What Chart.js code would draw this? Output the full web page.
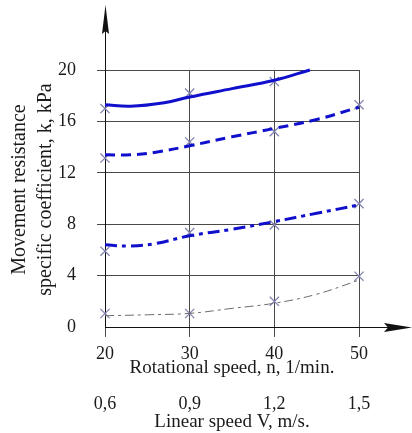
<!DOCTYPE html>
<html><head><meta charset="utf-8">
<script src="https://cdn.jsdelivr.net/npm/chart.js@4/dist/chart.umd.min.js"></script>
<style>html,body{margin:0;padding:0;background:#fff;}canvas{display:block;}</style>
</head><body>
<canvas id="c" width="412" height="433"></canvas>
<script>
// Rotational speed n (1/min) — x ticks
const rotSpeed = [20, 30, 40, 50];
// Linear speed V (m/s) — second axis tick labels
const linSpeedLabels = ['0,6', '0,9', '1,2', '1,5'];
// Measured points (crosses), k in kPa
const measured1 = [17.0, 18.2, 19.1, null];
const measured2 = [13.15, 14.4, 15.2, 17.3];
const measured3 = [5.9, 7.35, 7.95, 9.6];
const measured4 = [1.05, 1.05, 2.0, 3.95];
// Fitted curves
const curve1N = [20, 23, 27, 30, 35, 40, 44.2];
const curve1K = [17.3, 17.18, 17.45, 17.9, 18.55, 19.2, 20.0];
const curve2N = [20, 23, 26, 30, 35, 40, 45, 50];
const curve2K = [13.4, 13.4, 13.6, 14.1, 14.8, 15.45, 16.15, 17.1];
const curve3N = [20, 23, 26, 30, 35, 40, 45, 50];
const curve3K = [6.4, 6.3, 6.5, 7.1, 7.6, 8.2, 8.85, 9.5];
const curve4N = [20, 25, 30, 35, 40, 45, 50];
const curve4K = [0.88, 0.95, 1.06, 1.45, 1.85, 2.55, 3.65];

const yTitleLines = ['Movement resistance', 'specific coefficient, k, kPa'];
const xTitle = 'Rotational speed, n, 1/min.';
const x2Title = 'Linear speed V, m/s.';

const SERIF = '"Liberation Serif", "Times New Roman", serif';
const BLUE = '#1010cc';
const MARK = '#8282b0';
const GRID = '#4a4a4a';
const TXT = '#1a1a1a';

const pts = (xs, ys) => xs.map((x, i) => ({x, y: ys[i]}));

function curve(xs, ys, color, width, dash) {
  return {
    type: 'line', data: pts(xs, ys), borderColor: color, borderWidth: width,
    borderDash: dash, pointRadius: 0, tension: 0.4,
    fill: false, order: 1, clip: 6
  };
}
function marks(ys) {
  return {
    type: 'line', data: pts(rotSpeed, ys), showLine: false, pointStyle: 'crossRot',
    pointRadius: 6.5, pointBorderWidth: 1.3, pointBorderColor: MARK, borderColor: MARK,
    backgroundColor: MARK, order: 2, clip: 8
  };
}

const decorations = {
  id: 'decorations',
  afterDraw(chart) {
    const {ctx, chartArea: ca, scales} = chart;
    const x0 = scales.x.getPixelForValue(rotSpeed[0]);
    const y0 = scales.y.getPixelForValue(0);
    ctx.save();
    ctx.strokeStyle = '#111'; ctx.fillStyle = '#111'; ctx.lineWidth = 1;
    // y-axis extension + arrow
    const tipY = ca.top - 65;
    ctx.beginPath(); ctx.moveTo(x0 + 0.5, ca.top); ctx.lineTo(x0 + 0.5, tipY + 10); ctx.stroke();
    ctx.beginPath();
    ctx.moveTo(x0 + 0.5, tipY);
    ctx.lineTo(x0 + 4, tipY + 29);
    ctx.lineTo(x0 + 0.5, tipY + 26);
    ctx.lineTo(x0 - 3, tipY + 29);
    ctx.closePath(); ctx.fill();
    // x-axis extension + arrow
    const tipX = chart.width;
    ctx.beginPath(); ctx.moveTo(ca.right, y0 + 0.5); ctx.lineTo(tipX - 10, y0 + 0.5); ctx.stroke();
    ctx.beginPath();
    ctx.moveTo(tipX, y0 + 0.5);
    ctx.lineTo(tipX - 28, y0 + 5);
    ctx.lineTo(tipX - 24, y0 + 0.5);
    ctx.lineTo(tipX - 28, y0 - 4);
    ctx.closePath(); ctx.fill();
    // y-axis title (two rotated lines)
    ctx.fillStyle = TXT;
    ctx.font = '20px ' + SERIF;
    ctx.textAlign = 'center'; ctx.textBaseline = 'middle';
    const cy = (ca.top + ca.bottom) / 2 - 9;
    const xs = [20, 46];
    yTitleLines.forEach((t, i) => {
      ctx.save(); ctx.translate(xs[i], cy); ctx.rotate(-Math.PI / 2);
      ctx.fillText(t, 0, 0); ctx.restore();
    });
    ctx.restore();
  }
};

new Chart(document.getElementById('c'), {
  type: 'line',
  data: {
    datasets: [
      curve(curve1N, curve1K, BLUE, 3, []),
      curve(curve2N, curve2K, BLUE, 3, [10, 6]),
      curve(curve3N, curve3K, BLUE, 3, [12, 5, 4, 5]),
      curve(curve4N, curve4K, '#6a6a6a', 1, [9, 4, 3, 4]),
      marks(measured1), marks(measured2), marks(measured3), marks(measured4)
    ]
  },
  options: {
    responsive: false, animation: false, devicePixelRatio: 1,
    layout: {padding: {top: 70, right: 53, left: 0, bottom: 0}},
    plugins: {legend: {display: false}, tooltip: {enabled: false}},
    scales: {
      x: {
        type: 'linear', position: 'bottom', min: 20, max: 50, weight: 0,
        afterFit: s => { s.height = 52; },
        afterBuildTicks: s => { s.ticks = rotSpeed.map(v => ({value: v})); },
        ticks: {color: TXT, font: {family: SERIF, size: 18}, padding: 6, maxRotation: 0},
        grid: {color: GRID, lineWidth: 1, tickLength: 10, tickColor: GRID},
        border: {display: true, color: '#111', width: 1},
        title: {display: true, text: xTitle, color: TXT, font: {family: SERIF, size: 19}, padding: 0}
      },
      x2: {
        type: 'linear', position: 'bottom', min: 20, max: 50, weight: 1,
        afterFit: s => { s.height = 54; },
        afterBuildTicks: s => { s.ticks = rotSpeed.map(v => ({value: v})); },
        ticks: {color: TXT, font: {family: SERIF, size: 18}, padding: 14, maxRotation: 0,
          callback: (v, i) => linSpeedLabels[i]},
        grid: {display: false, drawTicks: false},
        border: {display: false},
        title: {display: true, text: x2Title, color: TXT, font: {family: SERIF, size: 19}, padding: 0}
      },
      y: {
        type: 'linear', min: 0, max: 20,
        afterFit: s => { s.width = 105; },
        ticks: {stepSize: 4, color: TXT, font: {family: SERIF, size: 18}, padding: 21},
        grid: {color: GRID, lineWidth: 1, tickLength: 8,
          tickColor: c => (c.tick && c.tick.value === 0) ? 'rgba(0,0,0,0)' : GRID},
        border: {display: true, color: '#111', width: 1}
      }
    }
  },
  plugins: [decorations]
});
</script>
</body></html>
